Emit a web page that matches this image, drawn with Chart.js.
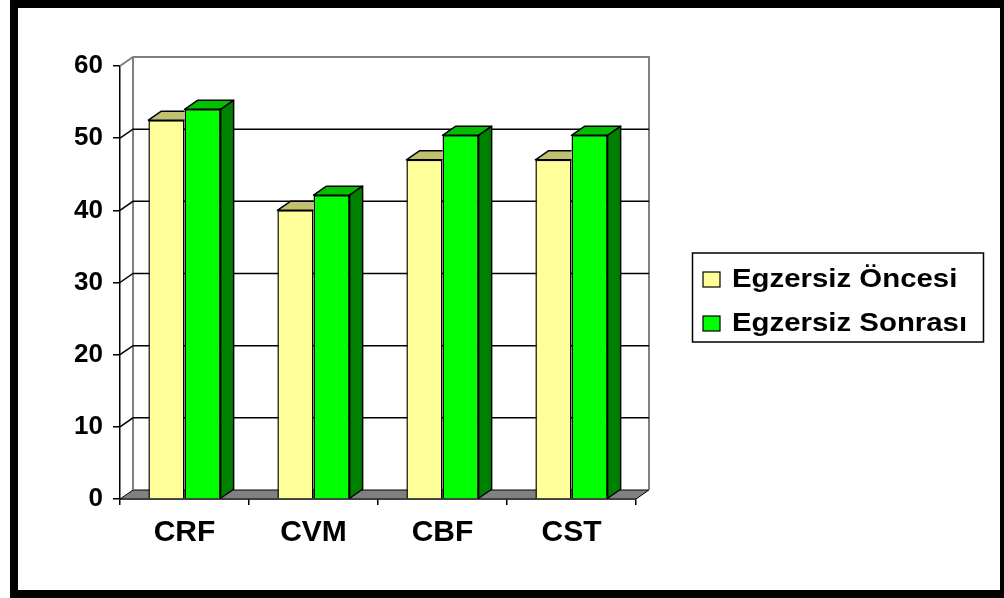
<!DOCTYPE html>
<html>
<head>
<meta charset="utf-8">
<script src="https://cdn.jsdelivr.net/npm/chart.js@4/dist/chart.umd.min.js"></script>
<style>
  html, body { margin: 0; padding: 0; background: #fff; }
  #wrap { position: relative; width: 1004px; height: 598px; }
</style>
</head>
<body>
<div id="wrap"><canvas id="myChart"></canvas></div>
<script>
// data
var categories = ['CRF', 'CVM', 'CBF', 'CST'];
var seriesNames = ['Egzersiz Öncesi', 'Egzersiz Sonrası'];
var beforeValues = [52.5, 40.0, 47.0, 47.0];
var afterValues = [54.0, 42.1, 50.4, 50.4];
var yTicks = [0, 10, 20, 30, 40, 50, 60];

// face colours: front, top, side
var shades = [
    { front: '#FFFF99', top: '#C0C070', side: '#8C8C50' },
    { front: '#00FF00', top: '#00C000', side: '#008000' }
];
var DX = 13, DY = -9; // depth of the 3d box

var fontName = '"Liberation Sans", Arial, sans-serif';

// back walls, floor and gridlines behind the bars
const depthPlugin = {
    id: 'depth',
    beforeDatasetsDraw(chart) {
        const ctx = chart.ctx;
        const a = chart.chartArea;
        const y = chart.scales.y;
        ctx.save();

        // floor
        ctx.beginPath();
        ctx.moveTo(a.left, a.bottom);
        ctx.lineTo(a.right, a.bottom);
        ctx.lineTo(a.right + DX, a.bottom + DY);
        ctx.lineTo(a.left + DX, a.bottom + DY);
        ctx.closePath();
        ctx.fillStyle = '#808080';
        ctx.fill();
        ctx.strokeStyle = '#000';
        ctx.lineWidth = 1;
        ctx.stroke();

        // wall edges
        ctx.beginPath();
        ctx.moveTo(a.left, a.top);
        ctx.lineTo(a.left + DX, a.top + DY);
        ctx.lineTo(a.right + DX, a.top + DY);
        ctx.lineTo(a.right + DX, a.bottom + DY);
        ctx.moveTo(a.left + DX, a.top + DY);
        ctx.lineTo(a.left + DX, a.bottom + DY);
        ctx.strokeStyle = '#808080';
        ctx.lineWidth = 2;
        ctx.stroke();

        // gridlines on side and back wall
        ctx.beginPath();
        y.ticks.forEach(function (t) {
            if (t.value === y.min || t.value === y.max) return;
            const py = y.getPixelForValue(t.value);
            ctx.moveTo(a.left, py);
            ctx.lineTo(a.left + DX, py + DY);
            ctx.lineTo(a.right + DX, py + DY);
        });
        ctx.strokeStyle = '#000';
        ctx.lineWidth = 1.5;
        ctx.stroke();
        ctx.restore();
    },
    // top and side faces; the neighbour bar to the right hides the rest
    afterDatasetDraw(chart, args) {
        const ctx = chart.ctx;
        const sh = shades[args.index];
        const isLast = args.index === chart.data.datasets.length - 1;
        args.meta.data.forEach(function (bar) {
            const p = bar.getProps(['x', 'y', 'base', 'width'], true);
            const l = p.x - p.width / 2, r = p.x + p.width / 2;
            ctx.save();
            ctx.strokeStyle = '#000';
            ctx.lineWidth = 1.5;
            ctx.lineJoin = 'round';
            if (!isLast) {
                ctx.beginPath();
                ctx.rect(0, 0, r, chart.height);
                ctx.clip();
            }
            ctx.beginPath();
            ctx.moveTo(l, p.y);
            ctx.lineTo(r, p.y);
            ctx.lineTo(r + DX, p.y + DY);
            ctx.lineTo(l + DX, p.y + DY);
            ctx.closePath();
            ctx.fillStyle = sh.top;
            ctx.fill();
            ctx.stroke();

            if (isLast) {
                ctx.beginPath();
                ctx.moveTo(r, p.y);
                ctx.lineTo(r + DX, p.y + DY);
                ctx.lineTo(r + DX, p.base + DY);
                ctx.lineTo(r, p.base);
                ctx.closePath();
                ctx.fillStyle = sh.side;
                ctx.fill();
                ctx.stroke();
            }
            ctx.restore();
        });
    }
};

// boxed legend on the right and the black frame
const legendBox = {
    id: 'legendBox',
    afterDraw(chart) {
        const ctx = chart.ctx;
        ctx.save();
        ctx.strokeStyle = '#000';
        ctx.lineWidth = 1.5;
        ctx.strokeRect(692.5, 253, 291, 89);
        ctx.font = 'bold 26px ' + fontName;
        ctx.textBaseline = 'alphabetic';
        chart.data.datasets.forEach(function (ds, i) {
            const base = 287 + i * 44;
            ctx.fillStyle = ds.backgroundColor;
            ctx.fillRect(703, base - 15, 17, 15);
            ctx.lineWidth = 1.2;
            ctx.strokeRect(703, base - 15, 17, 15);
            ctx.fillStyle = '#000';
            ctx.save();
            ctx.translate(732, base);
            ctx.scale(1.13, 1);
            ctx.fillText(ds.label, 0, 0);
            ctx.restore();
        });

        ctx.lineWidth = 8;
        ctx.strokeRect(14, 4, 990, 590);
        ctx.restore();
    }
};

new Chart(document.getElementById('myChart'), {
    type: 'bar',
    data: {
        labels: categories,
        datasets: [{
            label: seriesNames[0],
            data: beforeValues,
            backgroundColor: shades[0].front,
            borderColor: '#000',
            borderWidth: 1.5
        }, {
            label: seriesNames[1],
            data: afterValues,
            backgroundColor: shades[1].front,
            borderColor: '#000',
            borderWidth: 1.5
        }]
    },
    options: {
        responsive: true,
        maintainAspectRatio: false,
        animation: false,
        layout: { padding: { left: 0, right: 368, top: 66, bottom: 0 } },
        categoryPercentage: 0.56,
        barPercentage: 1.0,
        plugins: {
            legend: { display: false },
            tooltip: { enabled: false }
        },
        scales: {
            x: {
                grid: { drawOnChartArea: false, color: '#000', lineWidth: 1.5, tickLength: 6 },
                border: { color: '#000', width: 1.5 },
                ticks: { color: '#000', padding: 10, font: { family: fontName, size: 30, weight: 'bold' } },
                afterFit: function (s) { s.height = 99; }
            },
            y: {
                min: yTicks[0],
                max: yTicks[yTicks.length - 1],
                afterBuildTicks: function (s) { s.ticks = yTicks.map(function (v) { return { value: v }; }); },
                grid: { drawOnChartArea: false, color: '#000', lineWidth: 1.5, tickLength: 7 },
                border: { color: '#000', width: 1.5 },
                ticks: { color: '#000', padding: 10, font: { family: fontName, size: 26, weight: 'bold' } },
                afterFit: function (s) { s.width = 120; }
            }
        }
    },
    plugins: [depthPlugin, legendBox]
});
</script>
</body>
</html>
